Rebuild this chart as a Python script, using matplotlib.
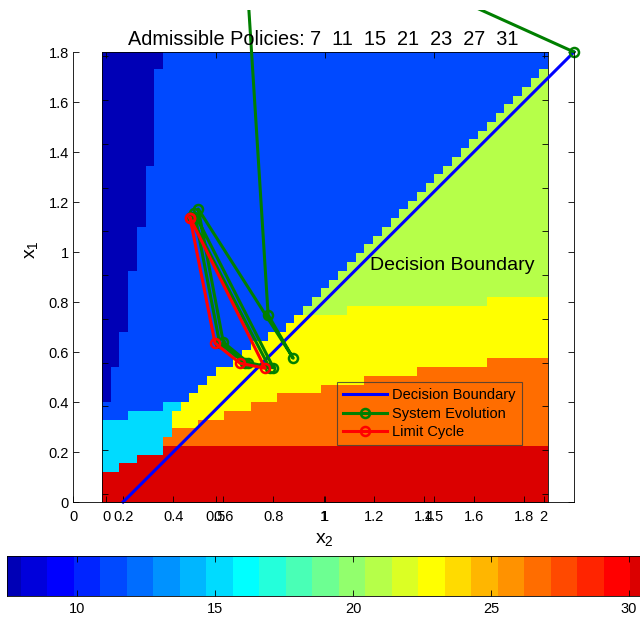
import numpy as np
import matplotlib
matplotlib.use("Agg")
import matplotlib.pyplot as plt
from matplotlib.colors import ListedColormap, Normalize
from matplotlib.transforms import Bbox, TransformedBbox

plt.rcParams['font.family'] = ['Liberation Sans', 'DejaVu Sans']

W, H = 640, 617

policies = [7, 11, 15, 21, 23, 27, 31]

# policy map grid: x2 (columns) and x1 (rows) both 0, 0.04, ..., 2
grid_step = 0.04
n_cells = 51

# for every column, the row where each band stops (counted from x1 = 0)
red_top = [3, 3, 4, 4, 5, 5, 5, 6, 6, 6, 6, 6, 6, 6, 6, 6, 6, 6, 6, 6,
           6, 6, 6, 6, 6, 6, 6, 6, 6, 6, 6, 6, 6, 6, 6, 6, 6, 6, 6, 6,
           6, 6, 6, 6, 6, 6, 6, 6, 6, 6, 6]
orange_top = [3, 3, 4, 4, 5, 5, 5, 7, 8, 8, 8, 9, 9, 9, 10, 10, 10, 11, 11, 11,
              12, 12, 12, 12, 12, 13, 13, 13, 13, 13, 14, 14, 14, 14, 14, 14,
              15, 15, 15, 15, 15, 15, 15, 15, 16, 16, 16, 16, 16, 16, 16]
yellow_top = [3, 3, 4, 4, 5, 5, 5, 7, 10, 11, 12, 13, 14, 15, 15, 16, 17, 18, 18, 19,
              19, 20, 21, 21, 21, 21, 21, 21, 22, 22, 22, 22, 22, 22, 22, 22,
              22, 22, 22, 22, 22, 22, 22, 22, 23, 23, 23, 23, 23, 23, 23]
cyan_top = [9, 9, 9, 10, 10, 10, 10, 11, 11, 11, 12, 13, 14, 15, 15, 16, 17, 18, 18, 19,
            19, 20, 21, 21, 21, 21, 21, 21, 22, 22, 22, 22, 22, 22, 22, 22,
            22, 22, 22, 22, 22, 22, 22, 22, 23, 23, 23, 23, 23, 23, 23]
green_top = [9, 9, 9, 10, 10, 10, 10, 11, 11, 11, 12, 13, 14, 15, 15, 16, 17, 18, 18, 19,
             19, 20, 21, 22, 23, 24, 25, 26, 27, 28, 29, 30, 31, 32, 33, 34,
             35, 36, 37, 38, 39, 40, 41, 42, 43, 44, 45, 46, 47, 48, 49]
blue_top = [11, 15, 19, 26, 31, 38, 49, 51, 51, 51, 51, 51, 51, 51, 51, 51, 51, 51, 51, 51,
            51, 51, 51, 51, 51, 51, 51, 51, 51, 51, 51, 51, 51, 51, 51, 51,
            51, 51, 51, 51, 51, 51, 51, 51, 51, 51, 51, 51, 51, 51, 51]
# bands from bottom to top, navy (7) fills the rest of each column
band_policy = [31, 27, 23, 15, 21, 11]
band_tops = [red_top, orange_top, yellow_top, cyan_top, green_top, blue_top]

boundary_x2 = [0.2, 2.0]
boundary_x1 = [0.0, 1.8]

evolution_x2 = [2.0, 0.675, 0.779, 0.879, 0.50, 0.60, 0.70, 0.80,
                0.485, 0.585, 0.685, 0.785, 0.47]
evolution_x1 = [1.8, 2.40, 0.748, 0.575, 1.172, 0.639, 0.557, 0.537,
                1.155, 0.637, 0.556, 0.536, 1.14]

cycle_x2 = [0.467, 0.567, 0.667, 0.767, 0.467]
cycle_x1 = [1.137, 0.635, 0.555, 0.535, 1.137]

outer_ticks = [0, 0.2, 0.4, 0.6, 0.8, 1, 1.2, 1.4, 1.6, 1.8]
map_xticks = [0, 0.5, 1, 1.5, 2]
map_yticks = [0, 0.2, 0.4, 0.6, 0.8, 1, 1.2, 1.4, 1.6, 1.8, 2]
cbar_ticks = [10, 15, 20, 25, 30]


def px_rect(left, top, right, bottom):
    """Figure-fraction rectangle from pixel edges (origin top-left)."""
    return [left / W, 1 - bottom / H, (right - left) / W, (bottom - top) / H]


def matlab_jet(m):
    """MATLAB's jet(m) colour table."""
    n = int(np.ceil(m / 4))
    u = np.r_[np.arange(1, n + 1) / n, np.ones(n - 1), np.arange(n, 0, -1) / n]
    g = int(np.ceil(n / 2)) - int(m % 4 == 1) + np.arange(1, len(u) + 1)
    table = np.zeros((m, 3))
    for channel, idx in ((0, g + n), (1, g), (2, g - n)):
        keep = (idx >= 1) & (idx <= m)
        table[idx[keep] - 1, channel] = u[keep]
    return table


def build_policy_map():
    Z = np.full((n_cells, n_cells), 7.0)
    for j in range(n_cells):
        start = 0
        for policy, tops in zip(band_policy, band_tops):
            Z[start:tops[j], j] = policy
            start = tops[j]
    return Z


fig = plt.figure(figsize=(W / 100, H / 100), dpi=100)
cmap = ListedColormap(matlab_jet(25))
norm = Normalize(vmin=7, vmax=31)

# policy map axes
ax_map = fig.add_axes(px_rect(101.75, 52, 548, 502))
x_edges = (np.arange(n_cells + 1) - 0.5) * grid_step
y_edges = x_edges.copy()
y_edges[0] = -0.02 - 3.75 / 218.75
ax_map.pcolormesh(x_edges, y_edges, build_policy_map(), cmap=cmap, norm=norm)
ax_map.set_xlim(x_edges[0], x_edges[-1])
ax_map.set_ylim(y_edges[0], y_edges[-1])
ax_map.set_xticks(map_xticks)
ax_map.set_xticklabels([f'{v:g}' for v in map_xticks])
ax_map.set_yticks(map_yticks)
ax_map.set_yticklabels([])
ax_map.tick_params(direction='in', top=True, right=True, length=4, width=0.6,
                   labelsize=10.5, pad=6)
for sp in ax_map.spines.values():
    sp.set_linewidth(0.6)

# state-space axes drawn on top
ax = fig.add_axes(px_rect(73, 52, 574, 502))
ax.set_facecolor('none')
ax.set_xlim(0, 2)
ax.set_ylim(0, 1.8)
ax.spines['top'].set_visible(False)
for sp in ax.spines.values():
    sp.set_linewidth(0.6)
ax.set_xticks(outer_ticks)
ax.set_xticklabels([f'{v:g}' for v in outer_ticks])
ax.set_yticks(outer_ticks)
ax.set_yticklabels([f'{v:g}' for v in outer_ticks])
ax.tick_params(direction='in', right=True, length=4, width=0.6, labelsize=10.5)
ax.tick_params(axis='x', pad=6)
ax.tick_params(axis='y', pad=3)

clip = TransformedBbox(Bbox.from_extents(0, 0, 1, 1 - 10 / H), fig.transFigure)
lines = []
lines += ax.plot(boundary_x2, boundary_x1, color='#0000FF', lw=2.2,
                 label='Decision Boundary')
lines += ax.plot(evolution_x2, evolution_x1, color='#007F00', lw=2.2,
                 marker='o', ms=6.5, mfc='none', mew=1.8, label='System Evolution')
lines += ax.plot(cycle_x2, cycle_x1, color='#FF0000', lw=2.2,
                 marker='o', ms=6.5, mfc='none', mew=1.8, label='Limit Cycle')
for ln in lines:
    ln.set_clip_path(None)
    ln.set_clip_box(clip)

leg = ax.legend(loc='upper left', bbox_to_anchor=(337 / W, 1 - 382 / H),
                bbox_transform=fig.transFigure, borderaxespad=0, fontsize=10.5,
                handlelength=3.0, handletextpad=0.4, labelspacing=0.33,
                borderpad=0.4, fancybox=False)
leg.get_frame().set_facecolor('none')
leg.get_frame().set_edgecolor('#3a3a3a')
leg.get_frame().set_linewidth(0.8)

fig.text(370 / W, 1 - 270 / H, 'Decision Boundary', fontsize=14,
         ha='left', va='baseline')
fig.text(323 / W, 1 - 45 / H,
         'Admissible Policies: ' + '  '.join(str(p) for p in policies),
         fontsize=14.3, ha='center', va='baseline')
fig.text(324 / W, 1 - 539 / H, r'$\mathregular{x_2}$', fontsize=14,
         ha='center', va='center')
fig.text(31 / W, 1 - 250 / H, r'$\mathregular{x_1}$', fontsize=14,
         rotation=90, ha='center', va='center')

# colour scale along the bottom
cax = fig.add_axes(px_rect(7.4, 556, 656.6, 596))
band_edges = np.linspace(7, 31, 26)
band_mid = (band_edges[:-1] + band_edges[1:]) / 2
cax.pcolormesh(band_edges, [0, 1], band_mid[None, :], cmap=cmap, norm=norm)
cax.set_xlim(7.48, 31)
cax.set_ylim(0, 1)
cax.set_yticks([])
cax.set_xticks(cbar_ticks)
cax.tick_params(direction='in', top=True, length=4, width=0.6,
                labelsize=10.5, pad=4)
for sp in cax.spines.values():
    sp.set_linewidth(0.6)

fig.savefig('out.png', dpi=100)
